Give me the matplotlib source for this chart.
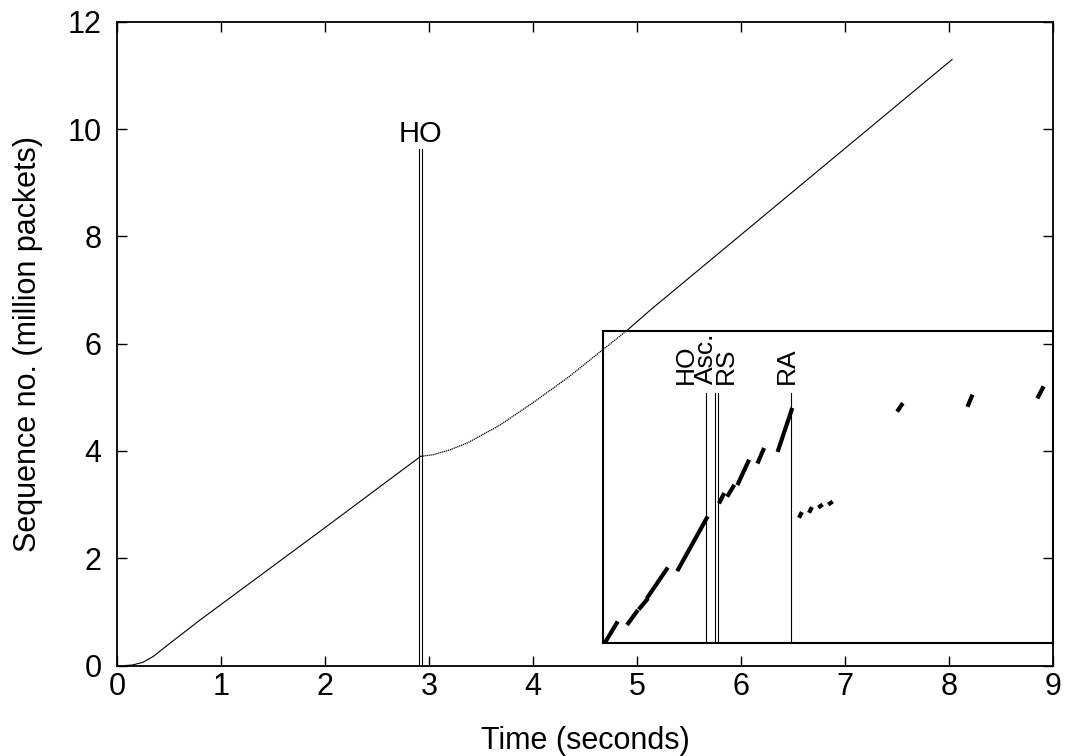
import matplotlib
matplotlib.use('Agg')
import matplotlib.pyplot as plt

plt.rcParams['font.family'] = ['Liberation Sans', 'DejaVu Sans']

# main trace: time (s) vs. sequence number (million packets)
time_s = [0.08, 0.15, 0.25, 0.35, 0.48, 0.80, 2.00, 2.92,
          3.04, 3.20, 3.37, 3.68, 4.00, 4.33, 4.64, 4.90, 5.13, 8.03]
seq_m = [0.00, 0.01, 0.06, 0.17, 0.37, 0.85, 2.57, 3.90,
         3.93, 4.02, 4.15, 4.48, 4.90, 5.36, 5.84, 6.24, 6.63, 11.30]

# handover markers on the main plot
ho_times = [2.904, 2.936]
ho_top = 9.63

# inset: zoom around the handover (ms, packets), bursts drawn as dashes
burst_t0 = [2, 25.3, 37, 45, 75.3, 117, 125.3, 135.3, 155.3, 175.3,
            197, 207, 217, 227, 295.3, 365.3, 435.3]
burst_t1 = [13.7, 33.7, 43.7, 63.7, 103.7, 120.3, 130.3, 145.3, 160.3, 188.7,
            198, 208, 218, 228, 298.7, 368.7, 439.7]
burst_s0 = [3, 197, 350, 463, 737, 1413, 1480, 1597, 1813, 1930,
            1270, 1320, 1365, 1395, 2330, 2380, 2463]
burst_s1 = [197, 313, 430, 737, 1247, 1480, 1563, 1813, 1930, 2330,
            1290, 1340, 1372, 1402, 2380, 2463, 2547]

event_names = ['HO', 'Asc.', 'RS', 'RA']
event_times = [102.7, 112.0, 115.0, 188.0]
event_label_x = [83.0, 103.5, 123.0, 184.0]
event_top = 2500


def main():
    fig = plt.figure(figsize=(10.69, 7.56), dpi=100)
    ax = fig.add_axes([0.1094, 0.1197, 0.8756, 0.8513])

    # main trace
    ax.plot(time_s[:8], seq_m[:8], color='black', lw=0.8)
    ax.plot(time_s[7:16], seq_m[7:16], color='black', lw=0.9, ls=(0, (1, 0.6)))
    ax.plot(time_s[15:], seq_m[15:], color='black', lw=0.8)

    for t in ho_times:
        ax.plot([t, t], [0, ho_top], color='black', lw=0.8)
    ax.text(sum(ho_times) / 2, ho_top + 0.02, 'HO', ha='center', va='bottom',
            fontsize=21)

    ax.set_xlim(0, 9)
    ax.set_ylim(0, 12)
    ax.set_xticks(range(0, 10))
    ax.set_yticks(range(0, 13, 2))
    ax.tick_params(direction='in', length=7, width=1, top=True, right=True,
                   labelsize=22)
    ax.tick_params(axis='x', pad=5)
    ax.tick_params(axis='y', pad=11)
    for sp in ax.spines.values():
        sp.set_linewidth(1.3)
    ax.set_xlabel('Time (seconds)', fontsize=22, labelpad=17)
    ax.set_ylabel('Sequence no. (million packets)', fontsize=22, labelpad=18)

    # inset
    ins = ax.inset_axes([4.673, 0.42, 9 - 4.673, 6.24 - 0.42],
                        transform=ax.transData)
    ins.set_facecolor('none')
    for a, b, c, d in zip(burst_t0, burst_t1, burst_s0, burst_s1):
        ins.plot([a, b], [c, d], color='black', lw=3.0,
                 solid_capstyle='projecting')
    for t in event_times:
        ins.plot([t, t], [0, event_top], color='black', lw=0.8)
    for name, x in zip(event_names, event_label_x):
        ins.text(x, event_top + 90, name, rotation=90, ha='center',
                 va='bottom', fontsize=19)
    ins.set_xlim(0, 450)
    ins.set_ylim(0, 3120)
    ins.set_xticks([])
    ins.set_yticks([])
    for sp in ins.spines.values():
        sp.set_linewidth(1.5)

    plt.savefig('out.png', dpi=100)


if __name__ == '__main__':
    main()
